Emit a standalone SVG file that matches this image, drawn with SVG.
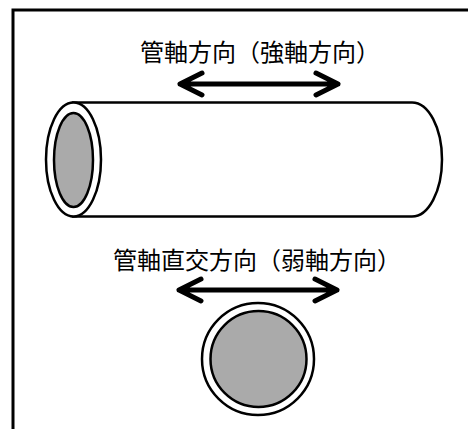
<svg xmlns="http://www.w3.org/2000/svg" width="468" height="429" viewBox="0 0 468 429">
  <style>
    .label { font-family: "Noto Sans CJK JP", "Noto Sans", sans-serif; font-size: 24px; fill: #000; }
    .outline { fill: #fff; stroke: #000; stroke-width: 2.5; }
    .core { fill: #aaa; stroke: #000; stroke-width: 2.5; }
    .arrow { fill: none; stroke: #000; stroke-width: 5; stroke-linecap: round; stroke-linejoin: round; }
  </style>
  <rect width="468" height="429" fill="#fff"/>
  <!-- frame, open past the right and bottom edges -->
  <rect id="frame" x="13" y="10" width="470" height="440" fill="none" stroke="#000" stroke-width="3"/>

  <g id="label-axial">
    <text class="label" x="140" y="61">管軸方向（強軸方向）</text>
  </g>

  <g id="pipe">
    <path class="outline" d="M73,102.5 L412,102.5 A30,57 0 0 1 412,216.5 L73,216.5 Z"/>
    <ellipse class="outline" cx="73.5" cy="159.5" rx="27.5" ry="57"/>
    <ellipse class="core" cx="73.5" cy="160" rx="19.5" ry="47"/>
  </g>

  <g id="label-transverse">
    <text class="label" x="113" y="269">管軸直交方向（弱軸方向）</text>
  </g>

  <g id="pipe-section">
    <circle class="outline" cx="258" cy="359" r="56"/>
    <circle class="core" cx="258.5" cy="359" r="48"/>
  </g>

  <g id="connectors">
    <path class="arrow" d="M180,84 L338,84 M202,73 L180,84 L202,95 M316,73 L338,84 L316,95"/>
    <path class="arrow" d="M179,290 L337,290 M201,279 L179,290 L201,301 M315,279 L337,290 L315,301"/>
  </g>
</svg>
